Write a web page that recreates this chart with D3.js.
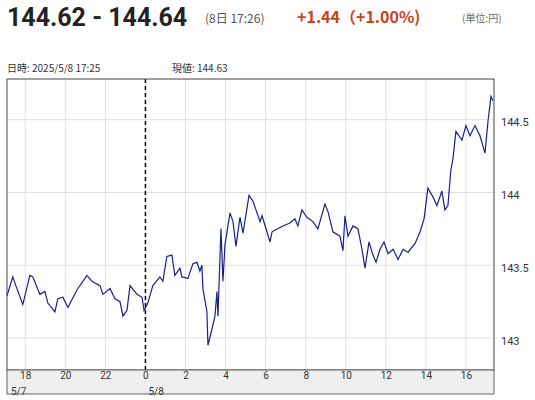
<!DOCTYPE html>
<html lang="ja">
<head>
<meta charset="UTF-8" />
<script src="https://cdn.jsdelivr.net/npm/d3@7/dist/d3.min.js"></script>
<style>
  body { margin: 0; padding: 0; background: #fff; font-family: "Noto Sans CJK JP", "Noto Sans", sans-serif; }
</style>
</head>
<body>
<svg width="535" height="400"></svg>
<script>
  // hours from 5/8 0:00
  var hours = [-6.91,-6.62,-6.47,-6.12,-5.77,-5.62,-5.27,-5.02,-4.87,-4.52,-4.37,-4.12,-3.87,-3.42,-2.92,-2.67,-2.27,-2.12,-1.77,-1.52,-1.27,-1.12,-0.92,-0.77,-0.42,-0.17,-0.07,0.12,0.37,0.72,0.87,1.07,1.32,1.47,1.72,1.82,2.12,2.37,2.57,2.72,2.82,2.87,3.07,3.12,3.32,3.47,3.57,3.62,3.77,3.87,3.97,4.22,4.37,4.52,4.72,4.87,5.17,5.37,5.72,5.82,6.22,6.32,6.86,7.21,7.46,7.61,7.81,8.06,8.36,8.61,8.96,9.11,9.36,9.71,9.86,9.96,10.11,10.36,10.61,10.81,10.96,11.16,11.36,11.51,11.71,11.91,12.11,12.36,12.61,12.86,13.11,13.46,13.71,13.91,14.10,14.35,14.55,14.80,14.95,15.10,15.25,15.35,15.50,15.80,16.00,16.20,16.45,16.70,16.95,17.10,17.25,17.35]
  var prices = [143.29,143.42,143.36,143.23,143.43,143.42,143.30,143.32,143.24,143.18,143.27,143.28,143.21,143.33,143.43,143.39,143.36,143.30,143.34,143.27,143.25,143.15,143.19,143.36,143.30,143.28,143.19,143.24,143.36,143.42,143.39,143.56,143.57,143.43,143.48,143.42,143.41,143.51,143.52,143.46,143.50,143.34,143.18,142.95,143.06,143.15,143.32,143.15,143.75,143.39,143.64,143.86,143.80,143.63,143.83,143.72,143.98,143.94,143.80,143.84,143.66,143.73,143.77,143.79,143.82,143.77,143.88,143.83,143.80,143.75,143.92,143.87,143.73,143.70,143.60,143.84,143.70,143.77,143.75,143.61,143.48,143.66,143.57,143.52,143.61,143.66,143.58,143.61,143.54,143.61,143.59,143.65,143.73,143.82,144.03,143.97,143.91,144.01,143.88,143.91,144.16,144.23,144.42,144.36,144.46,144.39,144.46,144.39,144.27,144.49,144.66,144.63]
  var xTicks = [-6, -4, -2, 0, 2, 4, 6, 8, 10, 12, 14, 16]
  var yTicks = [143, 143.5, 144, 144.5]

  var svg = d3.select('svg')
  var frame = { left: 7, right: 494, top: 79, bottom: 370 }

  var x = d3.scaleLinear().domain([-6.91, 17.4]).range([frame.left, frame.right])
  var y = d3.scaleLinear().domain([142.78, 144.78]).range([frame.bottom, frame.top])

  // header
  svg.append('text').attr('x', 7).attr('y', 26).attr('font-size', 25).attr('font-weight', 'bold')
    .attr('fill', '#222').attr('font-family', 'Roboto, sans-serif').text('144.62 - 144.64')
  svg.append('text').attr('x', 205).attr('y', 23).attr('font-size', 12).attr('fill', '#555').text('(8日 17:26)')
  svg.append('text').attr('x', 297).attr('y', 23).attr('font-size', 16).attr('font-weight', 'bold')
    .attr('fill', '#c9431c').text('+1.44（+1.00%)')
  svg.append('text').attr('x', 462).attr('y', 22).attr('font-size', 10).attr('fill', '#666').text('(単位:円)')
  svg.append('text').attr('x', 7).attr('y', 72).attr('font-size', 10).attr('fill', '#333').text('日時: 2025/5/8  17:25')
  svg.append('text').attr('x', 172).attr('y', 72).attr('font-size', 10).attr('fill', '#333').text('現値: 144.63')

  // grid
  svg.append('g').selectAll('line').data(xTicks).enter().append('line')
    .attr('x1', d => x(d)).attr('x2', d => x(d)).attr('y1', frame.top).attr('y2', frame.bottom)
    .attr('stroke', '#e0e0e0')
  svg.append('g').selectAll('line').data(yTicks).enter().append('line')
    .attr('x1', frame.left).attr('x2', frame.right).attr('y1', d => y(d)).attr('y2', d => y(d))
    .attr('stroke', '#e0e0e0')

  // date divider
  svg.append('line').attr('x1', x(0)).attr('x2', x(0)).attr('y1', frame.top).attr('y2', frame.bottom)
    .attr('stroke', '#000').attr('stroke-width', 1.5).attr('stroke-dasharray', '4,3')

  // price line
  var line = d3.line().x((d, i) => x(hours[i])).y(d => y(d))
  svg.append('path').datum(prices).attr('d', line).attr('fill', 'none')
    .attr('stroke', '#1a1f8a').attr('stroke-width', 1.2)

  // frame
  svg.append('rect').attr('x', frame.left).attr('y', frame.top)
    .attr('width', frame.right - frame.left).attr('height', frame.bottom - frame.top)
    .attr('fill', 'none').attr('stroke', '#444')

  // x axis band
  svg.append('rect').attr('x', frame.left).attr('y', frame.bottom)
    .attr('width', frame.right - frame.left).attr('height', 24)
    .attr('fill', '#efefef').attr('stroke', '#666')
  var xAxis = d3.axisBottom(x).tickValues(xTicks).tickSize(0)
    .tickFormat(d => ((d + 24) % 24).toString())
  var gx = svg.append('g').attr('transform', `translate(0, ${frame.bottom})`).call(xAxis)
  gx.select('.domain').remove()
  gx.selectAll('text').attr('font-size', 10).attr('fill', '#333').attr('dy', '0.6em')
    .attr('font-family', 'Roboto, sans-serif')
  svg.append('text').attr('x', 11).attr('y', 395).attr('font-size', 10).attr('fill', '#333')
    .attr('font-family', 'Roboto, sans-serif').text('5/7')
  svg.append('text').attr('x', x(0) + 3).attr('y', 395).attr('font-size', 10).attr('fill', '#333')
    .attr('font-family', 'Roboto, sans-serif').text('5/8')

  // y axis labels
  var yAxis = d3.axisRight(y).tickValues(yTicks).tickSize(0).tickFormat(d => d)
  var gy = svg.append('g').attr('transform', `translate(${frame.right + 4}, 0)`).call(yAxis)
  gy.select('.domain').remove()
  gy.selectAll('text').attr('font-size', 11).attr('fill', '#333').attr('dy', '0.55em')
    .attr('font-family', 'Roboto, sans-serif')
</script>
</body>
</html>
